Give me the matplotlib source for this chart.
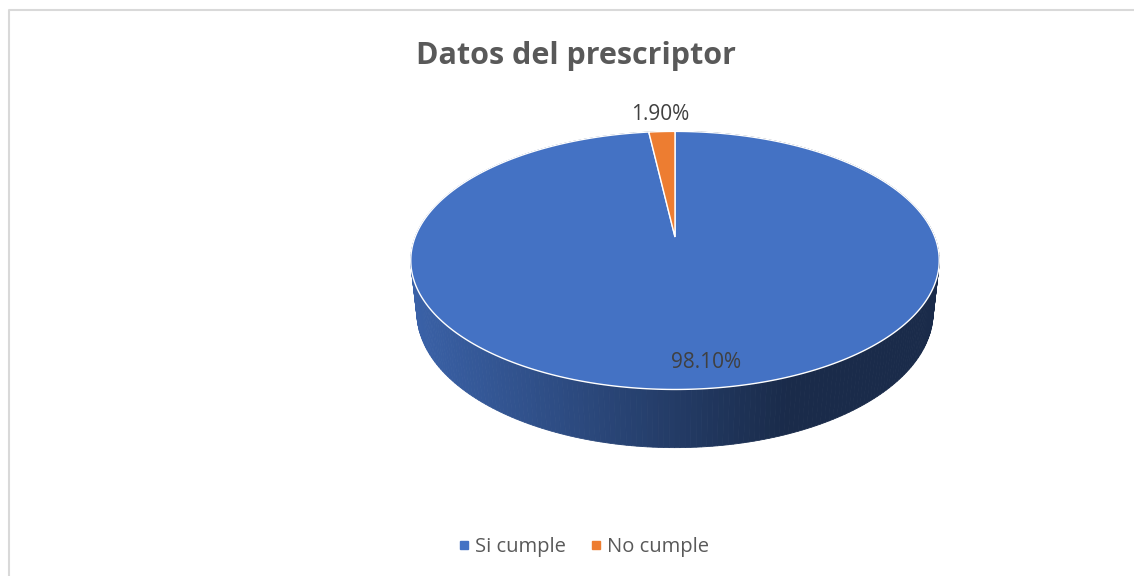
import numpy as np
import matplotlib.pyplot as plt
from matplotlib.patches import Polygon
from matplotlib.lines import Line2D
from matplotlib.colors import to_rgb

# data
categories = ["Si cumple", "No cumple"]
values = [98.10, 1.90]
labels = ["98.10%", "1.90%"]
colors = ["#4472C4", "#ED7D31"]
title = "Datos del prescriptor"

# 3d view settings (pixel space)
cx, cy = 675, 237
phi = np.radians(28.7)
D = 4.83
f = 1255
h = 0.23


def proj(theta, Y=0.0, r=1.0):
    X = r * np.cos(theta)
    Z = r * np.sin(theta)
    yv = Z * np.sin(phi) + Y * np.cos(phi)
    d = D + Z * np.cos(phi) - Y * np.sin(phi)
    return cx + X * f / d, cy - yv * f / d


def shade(base, t):
    # side gets darker from left to right
    c = np.array(to_rgb(base))
    k = 0.85 - 0.47 * np.clip(t, 0, 1)
    return tuple(c * k)


fig = plt.figure(figsize=(11.34, 5.76), dpi=100)
ax = fig.add_axes([0, 0, 1, 1])
ax.set_xlim(0, 1134)
ax.set_ylim(576, 0)
ax.axis("off")

total = sum(values)
cum = np.concatenate([[0], np.cumsum(values) / total * 360])
spans = [(np.radians(90 - cum[i + 1]), np.radians(90 - cum[i])) for i in range(len(values))]

# side walls, far to near
quads = []
for (a0, a1), col in zip(spans, colors):
    n = max(int((a1 - a0) / np.radians(1)), 2)
    th = np.linspace(a0, a1, n + 1)
    for t0, t1 in zip(th[:-1], th[1:]):
        p = [proj(t0), proj(t1), proj(t1, -h), proj(t0, -h)]
        depth = np.sin((t0 + t1) / 2)
        xm = (p[0][0] + p[1][0]) / 2
        quads.append((depth, p, shade(col, (xm - 415) / 370)))
quads.sort(key=lambda q: -q[0])
for _, p, c in quads:
    ax.add_patch(Polygon(p, closed=True, facecolor=c, edgecolor=c, lw=0.6))

# top faces
for (a0, a1), col in zip(spans, colors):
    th = np.linspace(a0, a1, 400)
    pts = [proj(0, r=0)] + [proj(t) for t in th]
    ax.add_patch(Polygon(pts, closed=True, facecolor=col, edgecolor="white", lw=1.0))

# labels
mid0 = np.mean(spans[0])
lx, ly = proj(mid0, r=0.82)
ax.text(lx + 16, ly + 6, labels[0], fontsize=15, color="#404040", ha="center", va="center",
        family="Open Sans")
mid1 = np.mean(spans[1])
lx, ly = proj(mid1, r=1.2)
ax.text(lx, ly, labels[1], fontsize=15, color="#404040", ha="center", va="center",
        family="Open Sans")

ax.text(576, 56, title, fontsize=22, fontweight="bold", color="#595959",
        ha="center", va="center", family="Open Sans")

# legend
handles = [Line2D([], [], marker="s", ls="", color=c, markersize=5.5) for c in colors]
fig.legend(handles, categories, loc="center", bbox_to_anchor=(584 / 1134, 1 - 547 / 576),
           ncol=2, frameon=False, labelcolor="#595959", handlelength=0.5,
           handletextpad=0.3, columnspacing=1.2,
           prop={"family": "Open Sans", "size": 14.5})

# chart area border
fig.add_artist(Line2D([9 / 1134, 9 / 1134, 1], [0, 1 - 10 / 576, 1 - 10 / 576],
                      color="#d9d9d9", lw=1.5, transform=fig.transFigure))

fig.savefig("out.png", dpi=100)
